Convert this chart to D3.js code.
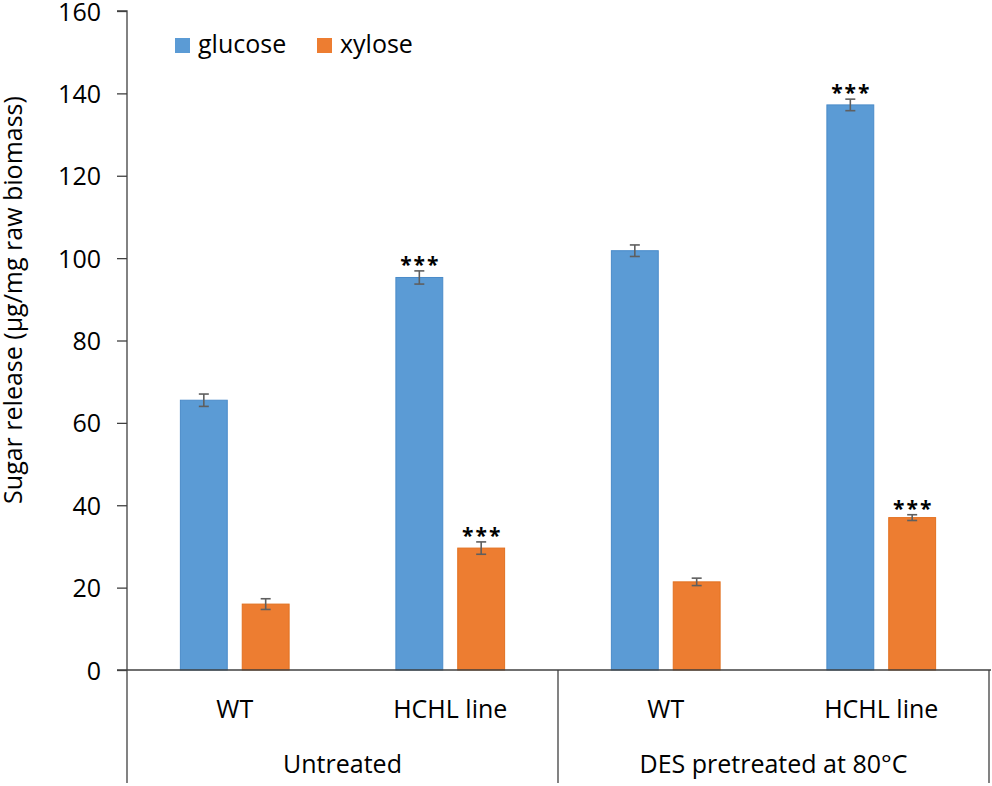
<!DOCTYPE html>
<html><head><meta charset="utf-8">
<script src="https://cdn.jsdelivr.net/npm/d3@7"></script>
<style>body{margin:0;background:#fff}svg{display:block}text{font-family:"Open Sans",Lato,sans-serif;fill:#000}</style>
</head><body><svg id="c" width="992" height="786"></svg>
<script>
const categories = ["WT", "HCHL line", "WT", "HCHL line"];
const groups = ["Untreated", "DES pretreated at 80°C"];
const groupOf = [0, 0, 1, 1];
const series = ["glucose", "xylose"];
const glucose = [65.5, 95.3, 101.8, 137.2];
const xylose = [16.0, 29.6, 21.4, 37.0];
const glucoseErr = [1.5, 1.6, 1.4, 1.4];
const xyloseErr = [1.3, 1.5, 0.9, 0.7];
const glucoseSig = ["", "***", "", "***"];
const xyloseSig = ["", "***", "", "***"];
const yTicks = [0, 20, 40, 60, 80, 100, 120, 140, 160];
const yTitle = "Sugar release (µg/mg raw biomass)";
const colors = {glucose: "#5B9BD5", xylose: "#ED7D31"};
const strokes = {glucose: "#4A8BC9", xylose: "#E2701F"};

const svg = d3.select("#c");
const L = 127, R = 989, T = 11, B = 670;
const FS = 25;
const y = d3.scaleLinear().domain([0, 160]).range([B, T]);
const x0 = d3.scaleBand().domain(d3.range(categories.length)).range([L, R]);
const x1 = d3.scaleBand().domain(series).range([0, x0.bandwidth()]).paddingInner(0.226).paddingOuter(0.855);

const data = [];
categories.forEach((c, i) => {
  data.push({i, s: "glucose", v: glucose[i], e: glucoseErr[i], sig: glucoseSig[i]});
  data.push({i, s: "xylose", v: xylose[i], e: xyloseErr[i], sig: xyloseSig[i]});
});

// bars
svg.append("g").selectAll("rect").data(data).join("rect")
  .attr("x", d => x0(d.i) + x1(d.s) + 0.5)
  .attr("width", x1.bandwidth() - 1)
  .attr("y", d => y(d.v))
  .attr("height", d => y(0) - y(d.v))
  .attr("fill", d => colors[d.s])
  .attr("stroke", d => strokes[d.s]).attr("stroke-width", 1);

// error bars
const eg = svg.append("g").attr("stroke", "#5f5f5f").attr("stroke-width", 1.6);
data.forEach(d => {
  const cx = x0(d.i) + x1(d.s) + x1.bandwidth() / 2;
  eg.append("line").attr("x1", cx).attr("x2", cx).attr("y1", y(d.v + d.e)).attr("y2", y(d.v - d.e));
  eg.append("line").attr("x1", cx - 5).attr("x2", cx + 5).attr("y1", y(d.v + d.e)).attr("y2", y(d.v + d.e));
  eg.append("line").attr("x1", cx - 5).attr("x2", cx + 5).attr("y1", y(d.v - d.e)).attr("y2", y(d.v - d.e));
  if (d.sig) {
    svg.append("text").attr("x", cx + 1).attr("y", y(d.v + d.e) + 1)
      .attr("text-anchor", "middle").attr("font-size", 21).attr("font-weight", "bold")
      .attr("letter-spacing", 2).text(d.sig);
  }
});

// y axis
const axisColor = "#404040";
const yAxis = d3.axisLeft(y).tickValues(yTicks).tickSize(10).tickPadding(16).tickFormat(d3.format("d"));
const ga = svg.append("g").attr("transform", `translate(${L},0)`).call(yAxis);
ga.select(".domain").attr("stroke", axisColor).attr("stroke-width", 1.3).attr("d", `M-10,${T}H0V${B}`);
ga.selectAll(".tick line").attr("stroke", axisColor).attr("stroke-width", 1.3);
ga.selectAll(".tick text").attr("font-size", FS).attr("font-family", "Open Sans").attr("fill", "#000").attr("dy", "0.36em");

// baseline & group separators
const lg = svg.append("g").attr("stroke", axisColor).attr("stroke-width", 1.3);
lg.append("line").attr("x1", L - 10).attr("x2", R + 2).attr("y1", B).attr("y2", B);
[L, x0(2), R].forEach(xx => lg.append("line").attr("x1", xx).attr("x2", xx).attr("y1", B).attr("y2", 783));

// category labels
svg.append("g").selectAll("text").data(categories).join("text")
  .attr("x", (d, i) => x0(i) + x0.bandwidth() / 2).attr("y", 718)
  .attr("text-anchor", "middle").attr("font-size", FS).text(d => d);
svg.append("g").selectAll("text").data(groups).join("text")
  .attr("x", (d, g) => { const idx = groupOf.map((v, k) => v === g ? k : -1).filter(k => k >= 0);
    return (x0(idx[0]) + x0(idx[idx.length - 1]) + x0.bandwidth()) / 2; })
  .attr("y", 773).attr("text-anchor", "middle").attr("font-size", FS).text(d => d);

// y title
svg.append("text").attr("transform", "translate(22,300) rotate(-90)")
  .attr("text-anchor", "middle").attr("font-size", 25).text(yTitle);

// legend
const leg = svg.append("g");
const legX = [175, 317];
series.forEach((s, k) => {
  leg.append("rect").attr("x", legX[k]).attr("y", 38).attr("width", 15).attr("height", 15).attr("fill", colors[s]);
  leg.append("text").attr("x", legX[k] + 23).attr("y", 53).attr("font-size", FS).text(s);
});
</script></body></html>
